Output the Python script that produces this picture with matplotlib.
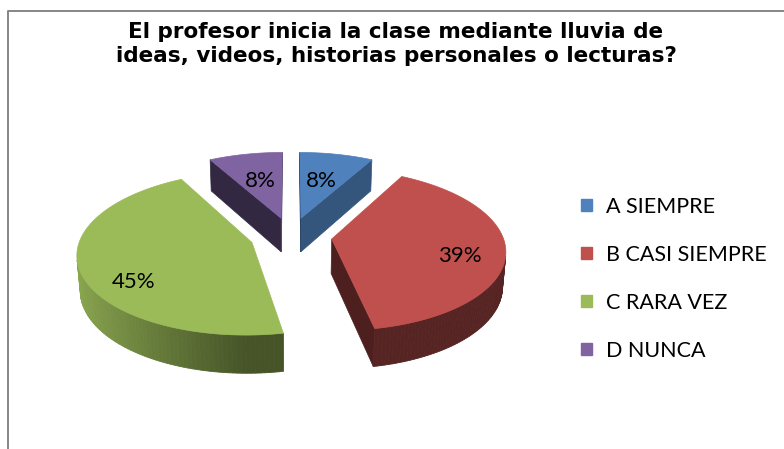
import numpy as np
import matplotlib
matplotlib.use("Agg")
import matplotlib.pyplot as plt
from matplotlib.patches import Polygon, Patch
from matplotlib.colors import to_rgb

# data
categories = ["A SIEMPRE", "B CASI SIEMPRE", "C RARA VEZ", "D NUNCA"]
values = [8, 39, 45, 8]
title = "El profesor inicia la clase mediante lluvia de\nideas, videos, historias personales o lecturas?"

colors = ["#4F81BD", "#C0504D", "#9BBB59", "#8064A2"]
label_r = [0.55, 0.75, 0.78, 0.55]      # label distance along slice, radius units
label_frac = [0.5, 0.55, 0.4, 0.5]      # label angle inside slice

# 3d view set-up (pixel space)
W, H = 784, 449
cx, cy = 291, 236
s = 171.0           # radius in px
elev = np.deg2rad(27.4)
L = 6.8             # camera distance, in radius units
depth = 0.23        # pie thickness
explode = 0.24
se, ce = np.sin(elev), np.cos(elev)
cam = np.array([0.0, -L * ce, L * se])


def proj(X, Y, Z):
    X, Y, Z = np.asarray(X, float), np.asarray(Y, float), np.asarray(Z, float)
    v = Y * se + Z * ce
    w = Y * ce - Z * se
    f = 1.0 / (1.0 + w / L)
    return cx + s * X * f, cy - s * v * f


def shade(c, b):
    r, g, bb = to_rgb(c)
    return (r * b, g * b, bb * b)


fig = plt.figure(figsize=(W / 100, H / 100), dpi=100)
ax = fig.add_axes([0, 0, 1, 1])
ax.set_xlim(0, W)
ax.set_ylim(H, 0)
ax.axis("off")

# chart border (right and bottom edges are cut off in the original)
ax.plot([8, 8, W], [H, 11, 11], color="#868686", lw=1.4, solid_capstyle="butt")

fracs = np.array(values, float) / np.sum(values)
bounds = np.concatenate([[0], np.cumsum(fracs)]) * 2 * np.pi

slices = []
for i in range(len(values)):
    t0, t1 = bounds[i], bounds[i + 1]
    tm = 0.5 * (t0 + t1)
    ox, oy = explode * np.sin(tm), explode * np.cos(tm)
    slices.append((oy * ce, i, t0, t1, tm, ox, oy))

# far slices first
slices.sort(key=lambda t: -t[0])

for _, i, t0, t1, tm, ox, oy in slices:
    col = colors[i]
    th = np.linspace(t0, t1, 120)
    rx, ry = ox + np.sin(th), oy + np.cos(th)

    # radial cut faces
    for t, sign in ((t0, -1), (t1, 1)):
        n = sign * np.array([np.cos(t), -np.sin(t), 0.0])
        p = np.array([ox, oy, 0.0])
        if np.dot(n, cam - p) > 0:
            xs = [ox, ox + np.sin(t), ox + np.sin(t), ox]
            ys = [oy, oy + np.cos(t), oy + np.cos(t), oy]
            zs = [0, 0, -depth, -depth]
            px, py = proj(xs, ys, zs)
            b = 0.4 + 0.3 * max(0.0, n[0])
            ax.add_patch(Polygon(np.c_[px, py], closed=True, fc=shade(col, b),
                                 ec=shade(col, b), lw=0.5))

    # outer wall
    vis = (-1 - ox * np.sin(th) - oy * np.cos(th) - L * ce * np.cos(th)) > 0
    idx = np.where(vis)[0]
    if len(idx) > 1:
        tx, ty = proj(rx, ry, np.zeros_like(th))
        bx, by = proj(rx, ry, -depth * np.ones_like(th))
        for k in idx[:-1]:
            if not vis[k + 1]:
                continue
            b = 0.45 + 0.45 * max(0.0, -np.sin(0.5 * (th[k] + th[k + 1])))
            quad = [(tx[k], ty[k]), (tx[k + 1], ty[k + 1]), (bx[k + 1], by[k + 1]), (bx[k], by[k])]
            ax.add_patch(Polygon(quad, closed=True, fc=shade(col, b), ec=shade(col, b), lw=0.6))

    # top face
    px, py = proj(np.r_[ox, rx], np.r_[oy, ry], np.zeros(len(th) + 1))
    ax.add_patch(Polygon(np.c_[px, py], closed=True, fc=col, ec=col, lw=0.5))

# percentage labels
for _, i, t0, t1, tm, ox, oy in slices:
    ta = t0 + label_frac[i] * (t1 - t0)
    lx, ly = proj(ox + label_r[i] * np.sin(ta), oy + label_r[i] * np.cos(ta), 0.0)
    ax.text(lx, ly, f"{values[i]}%", ha="center", va="center",
            fontsize=16, family="Lato", color="black")

ax.text(396, 44, title, ha="center", va="center", fontsize=15.5, fontweight="bold",
        family="DejaVu Sans", linespacing=1.2)

handles = [Patch(facecolor=c, edgecolor=c) for c in colors]
ax.legend(handles, categories, loc="upper left", bbox_to_anchor=(581 / W, 1 - 197 / H),
          frameon=False, prop={"family": "Lato", "size": 15.5},
          handlelength=0.5, handleheight=0.5, handletextpad=0.65, labelspacing=1.3,
          borderaxespad=0, borderpad=0)

fig.savefig("out.png", dpi=100)
